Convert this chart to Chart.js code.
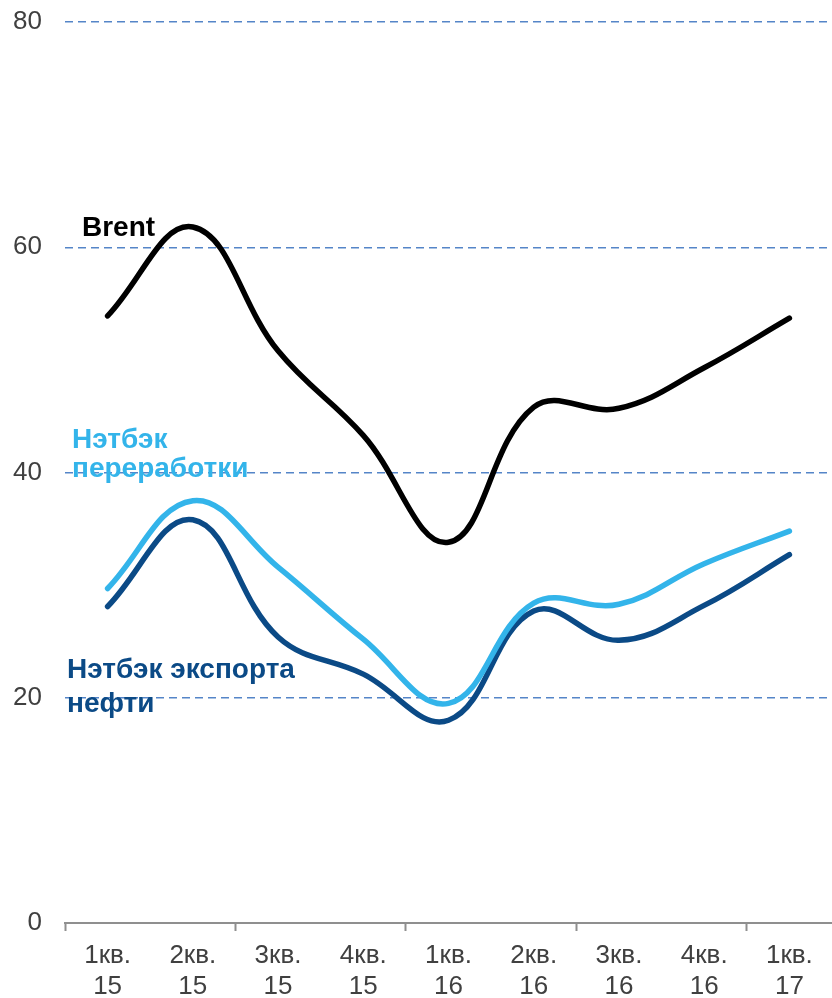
<!DOCTYPE html>
<html>
<head>
<meta charset="utf-8">
<script src="https://cdn.jsdelivr.net/npm/chart.js@4/dist/chart.umd.min.js"></script>
<style>
  html, body { margin: 0; padding: 0; background: #ffffff; }
  #wrap { width: 832px; height: 998px; }
</style>
</head>
<body>
<div id="wrap"><canvas id="chart" width="832" height="998"></canvas></div>
<script>
// Quarters (two-line tick labels)
const quarters = [
  ['1кв.', '15'], ['2кв.', '15'], ['3кв.', '15'], ['4кв.', '15'],
  ['1кв.', '16'], ['2кв.', '16'], ['3кв.', '16'], ['4кв.', '16'],
  ['1кв.', '17']
];

// Quarterly averages, $/bbl
const brent           = [53.9, 61.8, 50.8, 43.3, 33.8, 45.8, 45.7, 49.3, 53.7];
const refiningNetback = [29.7, 37.5, 31.6, 25.2, 19.5, 28.4, 28.3, 31.9, 34.8];
const exportNetback   = [28.1, 35.8, 25.4, 22.1, 18.0, 27.7, 25.1, 28.2, 32.7];

// Value axis
const yMin = 0;
const yMax = 80;
const yStep = 20;

// Series captions placed inside the plot
const captions = [
  { lines: ['Brent'],                    color: '#000000', dx: 17, values: [61.7] },
  { lines: ['Нэтбэк', 'переработки'],    color: '#33b4ea', dx: 7,  values: [42.9, 40.3] },
  { lines: ['Нэтбэк экспорта', 'нефти'], color: '#0b4a86', dx: 2,  values: [22.4, 19.4] }
];

const captionPlugin = {
  id: 'seriesCaptions',
  afterDatasetsDraw(chart) {
    const { ctx, chartArea, scales } = chart;
    ctx.save();
    ctx.font = 'bold 28px "Liberation Sans", Arial, sans-serif';
    ctx.textAlign = 'left';
    ctx.textBaseline = 'middle';
    captions.forEach(c => {
      ctx.fillStyle = c.color;
      c.lines.forEach((line, i) => {
        ctx.fillText(line, chartArea.left + c.dx, scales.y.getPixelForValue(c.values[i]));
      });
    });
    ctx.restore();
  }
};

const lineStyle = {
  borderWidth: 5.5,
  tension: 0.4,
  pointRadius: 0,
  pointHoverRadius: 0,
  fill: false,
  borderCapStyle: 'round',
  borderJoinStyle: 'round'
};

new Chart(document.getElementById('chart'), {
  type: 'line',
  data: {
    labels: quarters,
    datasets: [
      Object.assign({ label: 'Brent', data: brent, borderColor: '#000000', order: 0 }, lineStyle),
      Object.assign({ label: 'Нэтбэк переработки', data: refiningNetback, borderColor: '#33b4ea', order: 1 }, lineStyle),
      Object.assign({ label: 'Нэтбэк экспорта нефти', data: exportNetback, borderColor: '#0b4a86', order: 2 }, lineStyle)
    ]
  },
  options: {
    responsive: false,
    animation: false,
    events: [],
    layout: { padding: { top: 22, right: 0, bottom: 0, left: 0 } },
    plugins: {
      legend: { display: false },
      tooltip: { enabled: false }
    },
    scales: {
      x: {
        offset: true,
        afterFit(scale) {
          scale.height = 75;
          scale.paddingLeft = 0;
          scale.paddingRight = 0;
        },
        border: { display: true, color: '#8f8f8f', width: 2 },
        grid: {
          offset: true,
          drawOnChartArea: false,
          drawTicks: true,
          tickLength: 8,
          tickWidth: 2,
          tickColor: ctx => (ctx.index % 2 === 0 ? '#8f8f8f' : 'rgba(0,0,0,0)')
        },
        ticks: {
          autoSkip: false,
          maxRotation: 0,
          padding: 10,
          color: '#404040',
          font: { family: '"Liberation Sans", Arial, sans-serif', size: 26, lineHeight: 1.17 }
        }
      },
      y: {
        min: yMin,
        max: yMax,
        afterFit(scale) {
          scale.width = 65;
          scale.paddingTop = 0;
          scale.paddingBottom = 0;
        },
        border: { display: false, dash: [8, 5] },
        grid: {
          drawTicks: false,
          lineWidth: 1.5,
          color: ctx => (ctx.tick && ctx.tick.value === 0 ? 'rgba(0,0,0,0)' : '#5585c8')
        },
        ticks: {
          stepSize: yStep,
          padding: 23,
          color: '#404040',
          font: { family: '"Liberation Sans", Arial, sans-serif', size: 26 }
        }
      }
    }
  },
  plugins: [captionPlugin]
});
</script>
</body>
</html>
